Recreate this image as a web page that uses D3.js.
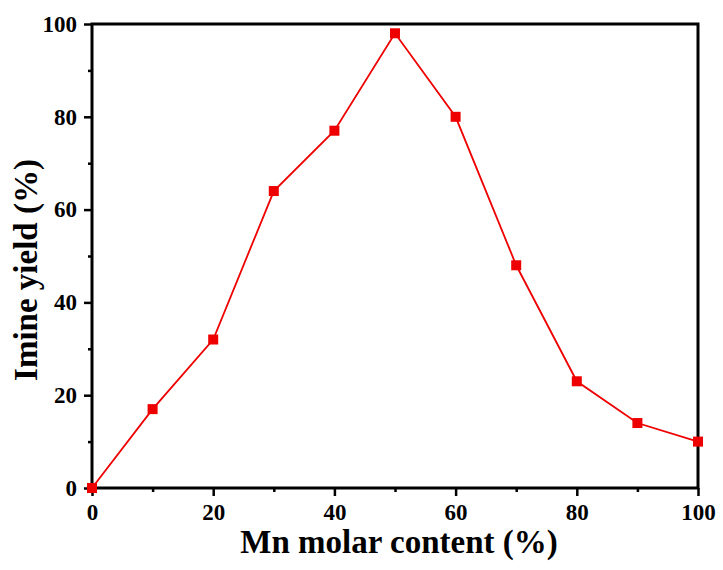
<!DOCTYPE html>
<html>
<head>
<meta charset="utf-8">
<script src="https://cdn.jsdelivr.net/npm/d3@7"></script>
<style>
  body { margin: 0; background: #fff; }
  text { font-family: "Liberation Serif", "Times New Roman", serif; font-weight: bold; }
</style>
</head>
<body>
<div id="chart"></div>
<script>
var w = 723;
var h = 570;

var mnContent = [0, 10, 20, 30, 40, 50, 60, 70, 80, 90, 100];
var imineYield = [0, 17, 32, 64, 77, 98, 80, 48, 23, 14, 10];
var xTicks = [0, 20, 40, 60, 80, 100];
var yTicks = [0, 20, 40, 60, 80, 100];

var margin = {top: 24, right: 25, bottom: 82, left: 92};
var innerW = w - margin.left - margin.right,
  innerH = h - margin.top - margin.bottom;

var x = d3.scaleLinear().domain([0, 100]).range([0, innerW]);
var y = d3.scaleLinear().domain([0, 100]).range([innerH, 0]);

var svg = d3.select('#chart')
  .append('svg')
    .attr('width', w)
    .attr('height', h)
  .append('g')
    .attr('transform', 'translate(' + [margin.left, margin.top] + ')');

// minor ticks
var xMinor = d3.axisBottom(x).tickValues([10, 30, 50, 70, 90]).tickSize(4).tickFormat('');
var yMinor = d3.axisLeft(y).tickValues([10, 30, 50, 70, 90]).tickSize(4).tickFormat('');

var xAxis = d3.axisBottom(x).tickValues(xTicks).tickSize(8).tickPadding(8).tickSizeOuter(0);
var yAxis = d3.axisLeft(y).tickValues(yTicks).tickSize(8).tickPadding(7).tickSizeOuter(0);

function styleAxis(g) {
  g.select('.domain').remove();
  g.selectAll('line').attr('stroke', '#000').attr('stroke-width', 2.5);
  g.selectAll('text').attr('fill', '#000').style('font-size', '23px');
}

svg.append('g').attr('transform', 'translate(' + [0, innerH] + ')').call(xMinor).call(styleAxis);
svg.append('g').call(yMinor).call(styleAxis);
svg.append('g').attr('transform', 'translate(' + [0, innerH] + ')').call(xAxis).call(styleAxis);
svg.append('g').call(yAxis).call(styleAxis);

// frame
svg.append('rect')
  .attr('width', innerW)
  .attr('height', innerH)
  .attr('fill', 'none')
  .attr('stroke', '#000')
  .attr('stroke-width', 3);

var pts = mnContent.map(function(d, i) { return {x: d, y: imineYield[i]}; });

var line = d3.line()
  .x(function(d) { return x(d.x); })
  .y(function(d) { return y(d.y); });

svg.append('path')
  .datum(pts)
  .attr('fill', 'none')
  .attr('stroke', '#ee0000')
  .attr('stroke-width', 1.8)
  .attr('d', line);

svg.selectAll('.pt')
  .data(pts)
  .enter().append('rect')
    .attr('class', 'pt')
    .attr('x', function(d) { return x(d.x) - 5; })
    .attr('y', function(d) { return y(d.y) - 5; })
    .attr('width', 10)
    .attr('height', 10)
    .attr('fill', '#ee0000');

svg.append('text')
  .attr('x', innerW / 2 + 4)
  .attr('y', innerH + 65)
  .attr('text-anchor', 'middle')
  .style('font-size', '33px')
  .text('Mn molar content (%)');

svg.append('text')
  .attr('transform', 'translate(' + [-55, innerH / 2 + 14] + ') rotate(-90)')
  .attr('text-anchor', 'middle')
  .style('font-size', '33px')
  .text('Imine yield (%)');
</script>
</body>
</html>
